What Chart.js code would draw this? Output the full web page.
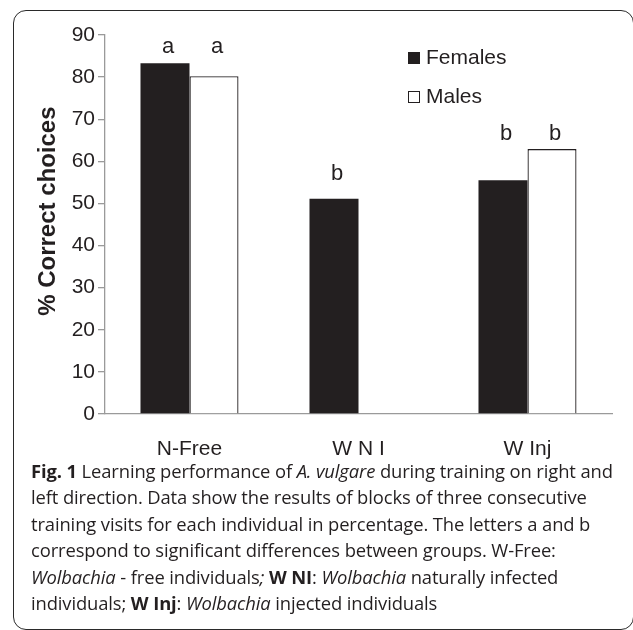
<!DOCTYPE html>
<html>
<head>
<meta charset="utf-8">
<script src="https://cdn.jsdelivr.net/npm/chart.js@4.4.1/dist/chart.umd.min.js"></script>
<style>
  html, body { margin: 0; padding: 0; background: #fff; }
  body { width: 633px; height: 630px; position: relative; overflow: hidden; }
  #frame { position: absolute; left: 13px; top: 10px; width: 621px; height: 620px;
           border: 1.6px solid #2a2a2a; border-radius: 13px; box-sizing: border-box; }
  #wrap { position: absolute; left: 0; top: 0; width: 633px; height: 460px; }
  #caption { position: absolute; left: 31px; top: 458px; width: 600px;
             font-family: "Open Sans", sans-serif; font-size: 18.4px; line-height: 26.4px;
             color: #231f20; white-space: nowrap; letter-spacing: -0.12px; }
  #caption b { font-weight: 700; }
</style>
</head>
<body>
<div id="frame"></div>
<div id="wrap"><canvas id="c" width="633" height="460"></canvas></div>
<div id="caption"><b>Fig. 1</b> Learning performance of <i>A. vulgare</i> during training on right and<br>left direction. Data show the results of blocks of three consecutive<br>training visits for each individual in percentage. The letters a and b<br>correspond to significant differences between groups. W-Free:<br><i>Wolbachia</i> - free individuals<i>;</i> <b>W NI</b>: <i>Wolbachia</i> naturally infected<br>individuals; <b>W Inj</b>: <i>Wolbachia</i> injected individuals</div>
<script>
// ---- data ----
const categories = ["N-Free", "W N I", "W Inj"];
const femalesValues = [83.3, 51.1, 55.5];
const malesValues = [80.2, null, 62.9];
const femalesLetters = ["a", "b", "b"];
const malesLetters = ["a", null, "b"];
const letterLevels = [85.7, 55.6, 65.1];   // value level (y units) of the letters' baseline per group
const yTicks = [0, 10, 20, 30, 40, 50, 60, 70, 80, 90];
const seriesNames = ["Females", "Males"];
const yTitle = "% Correct choices";

const INK = "#231f20";
const AXIS = "#9a9a9a";
const FONT = "'Liberation Sans', Arial, sans-serif";

const lettersPlugin = {
  id: "letters",
  afterDatasetsDraw(chart) {
    const ctx = chart.ctx;
    const y = chart.scales.y;
    ctx.save();
    ctx.font = "22px " + FONT;
    ctx.fillStyle = INK;
    ctx.textAlign = "center";
    ctx.textBaseline = "alphabetic";
    [femalesLetters, malesLetters].forEach((letters, di) => {
      const meta = chart.getDatasetMeta(di);
      letters.forEach((L, i) => {
        if (!L) return;
        const el = meta.data[i];
        ctx.fillText(L, el.x + 3, y.getPixelForValue(letterLevels[i]));
      });
    });
    ctx.restore();
  }
};

const legendPlugin = {
  id: "insideLegend",
  afterDraw(chart) {
    const ctx = chart.ctx;
    const a = chart.chartArea;
    const x0 = a.left + 303, y0 = a.top + 17, gap = 39, box = 12;
    ctx.save();
    ctx.font = "21px " + FONT;
    ctx.textBaseline = "middle";
    chart.data.datasets.forEach((ds, i) => {
      const yy = y0 + i * gap;
      ctx.fillStyle = ds.backgroundColor;
      ctx.fillRect(x0, yy, box, box);
      ctx.lineWidth = 1;
      ctx.strokeStyle = INK;
      ctx.strokeRect(x0 + 0.5, yy + 0.5, box - 1, box - 1);
      ctx.fillStyle = INK;
      ctx.fillText(ds.label, x0 + box + 6, yy + box / 2 + 0.5);
    });
    ctx.restore();
  }
};

new Chart(document.getElementById("c"), {
  type: "bar",
  data: {
    labels: categories,
    datasets: [
      { label: seriesNames[0], data: femalesValues, backgroundColor: INK,
        borderColor: INK, borderWidth: 0 },
      { label: seriesNames[1], data: malesValues, backgroundColor: "#ffffff",
        borderColor: INK, borderWidth: { top: 1.3, left: 1.3, right: 1.3, bottom: 0 } }
    ]
  },
  options: {
    responsive: false,
    animation: false,
    events: [],
    layout: { padding: { left: 0, right: 21, top: 35, bottom: 0 } },
    datasets: { bar: { barPercentage: 1.0, categoryPercentage: 0.58 } },
    plugins: { legend: { display: false }, tooltip: { enabled: false } },
    scales: {
      x: {
        grid: { display: false },
        border: { display: true, color: AXIS, width: 1.3 },
        ticks: { color: INK, font: { family: FONT, size: 21 }, padding: 15 },
        afterFit(s) { s.height = 46; }
      },
      y: {
        min: 0, max: 90,
        afterBuildTicks(s) { s.ticks = yTicks.map(v => ({ value: v })); },
        grid: { display: true, drawOnChartArea: false, tickLength: 7, color: AXIS, lineWidth: 1.3 },
        border: { display: true, color: AXIS, width: 1.3 },
        ticks: { color: INK, font: { family: FONT, size: 21 }, padding: 3 },
        title: { display: true, text: "    " + yTitle, color: INK,
                 font: { family: FONT, size: 24, weight: "bold" }, padding: { top: 34, bottom: 0 } },
        afterFit(s) { s.width = 105; }
      }
    }
  },
  plugins: [lettersPlugin, legendPlugin]
});
</script>
</body>
</html>
